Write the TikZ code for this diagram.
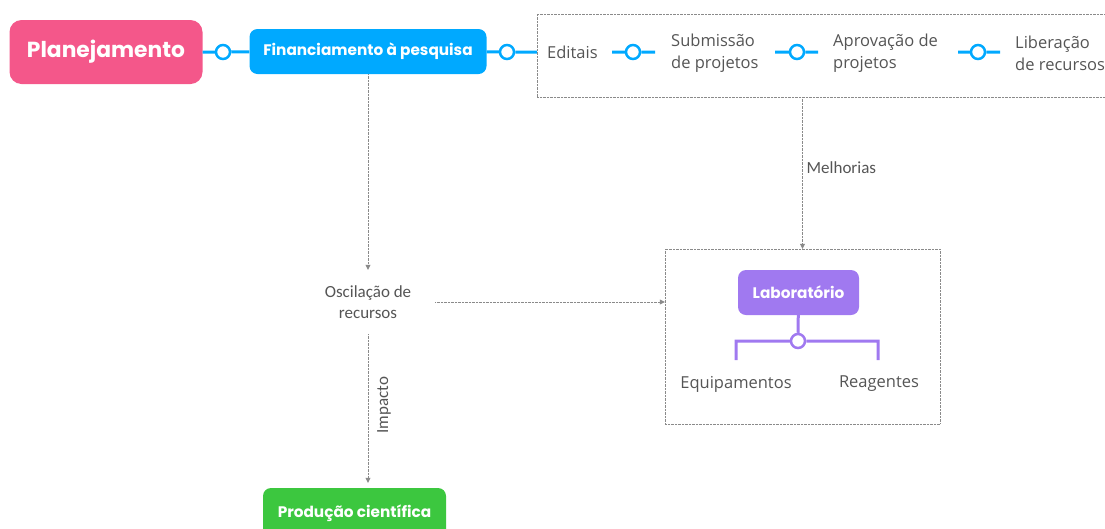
\documentclass[tikz,border=0pt]{standalone}
\usepackage{fontspec}
\setmainfont{Open Sans}
\newfontfamily\geo{Poppins}
\newfontfamily\calib{Carlito}
\usetikzlibrary{arrows.meta}

\definecolor{pinkc}{HTML}{F4578A}
\definecolor{bluec}{HTML}{00A9FF}
\definecolor{purplec}{HTML}{A079F0}
\definecolor{greenc}{HTML}{3CC73F}
\definecolor{textc}{HTML}{555555}
\definecolor{linec}{HTML}{8A8A8A}

\tikzset{
    topic/.style={rounded corners=8pt, text=white, font=\geo\bfseries\fontsize{15.3}{18}\selectfont, inner sep=0pt},
    knot/.style={circle, draw, line width=2.5pt, fill=white, minimum size=14pt, inner sep=0pt},
    plain/.style={text=textc, font=\fontsize{16.5}{22}\selectfont, align=left, inner sep=0pt},
    note/.style={text=textc, font=\calib\fontsize{17}{21}\selectfont, align=center, inner sep=0pt},
    frame/.style={draw=linec, densely dotted, thin, inner sep=0pt},
    link/.style={draw=linec, densely dotted, thin, -{Triangle[length=5pt,width=5pt]}},
}
\newcommand{\bk}{\node[knot, draw=bluec]}

\begin{document}
\begin{tikzpicture}[x=1pt, y=-1pt]
        \useasboundingbox (0,0) rectangle (1105,528);

        % topics
        \node[topic, rounded corners=12pt, fill=pinkc, minimum width=193pt, minimum height=64pt,
            font=\geo\bfseries\fontsize{21.8}{26}\selectfont] (plan) at (106,52) {Planejamento};
        \node[topic, fill=bluec, minimum width=237pt, minimum height=45pt] (fin) at (368,51.5) {Financiamento à pesquisa};
        \node[topic, fill=greenc, minimum width=183pt, minimum height=50pt] (prod) at (354.5,513) {Produção científica};

        % frames
        \node[frame, minimum width=590pt, minimum height=83pt] (flow) at (832,55.5) {};
        \node[frame, minimum width=275pt, minimum height=175pt] (labbox) at (802.5,336.5) {};

        % process chain
        \bk (k1) at (223,52) {};
        \bk (k2) at (507,52) {};
        \node[plain, anchor=west, inner xsep=10pt] (edit) at (537,52) {Editais};
        \bk (k3) at (633,52) {};
        \node[plain, anchor=west, inner xsep=16pt] (subm) at (655,53.5) {Submissão\\de projetos};
        \bk (k4) at (797,52) {};
        \node[plain, anchor=west, inner xsep=15pt] (aprov) at (818,53.5) {Aprovação de\\projetos};
        \bk (k5) at (978,52) {};
        \node[plain, anchor=west, inner xsep=15pt] (liber) at (1000,53.5) {Liberação\\de recursos};

        \draw[bluec, line width=3pt]
            (plan) -- (k1)
            (k1) -- (fin)
            (fin) -- (k2)
            (k2) -- (flow.west |- k2)
            (k3) -- (612,52)
            (k3) -- (k3 -| subm.west)
            (k4) -- (k4 -| aprov.west)
            (k4) -- (775,52)
            (k5) -- (k5 -| liber.west)
            (k5) -- (958,52)
            ;

        % laboratory
        \node[topic, fill=purplec, minimum width=121pt, minimum height=45pt] (lab) at (798.5,292.5) {Laboratório};
        \node[knot, draw=purplec] (k6) at (798,341) {};
        \node[plain] (equip) at (736,384) {Equipamentos};
        \node[plain] (reag) at (879,384) {Reagentes};
        \coordinate (bl) at (736,360);
        \coordinate (br) at (878,360);
        \draw[purplec, line width=3pt]
            (lab) -- (k6)
            (bl) |- (k6)
            (br) |- (k6)
            ;

        % relations
        \node[note, minimum width=134pt, minimum height=64pt] (osc) at (368,302) {Oscilação de\\recursos};
        \draw[link] (fin) -- (osc);
        \draw[link] (osc.east) -- (osc.east -| labbox.west);
        \draw[link, shorten >=5pt] (osc.south) -- (osc.south |- prod.north)
            node[note, midway, rotate=90, anchor=north, yshift=-9pt, xshift=6pt] {Impacto};
        \draw[link] (flow.south -| labbox.north) -- (labbox.north)
            node[note, midway, right, xshift=4pt, yshift=5pt] {Melhorias};
    \end{tikzpicture}
\end{document}
